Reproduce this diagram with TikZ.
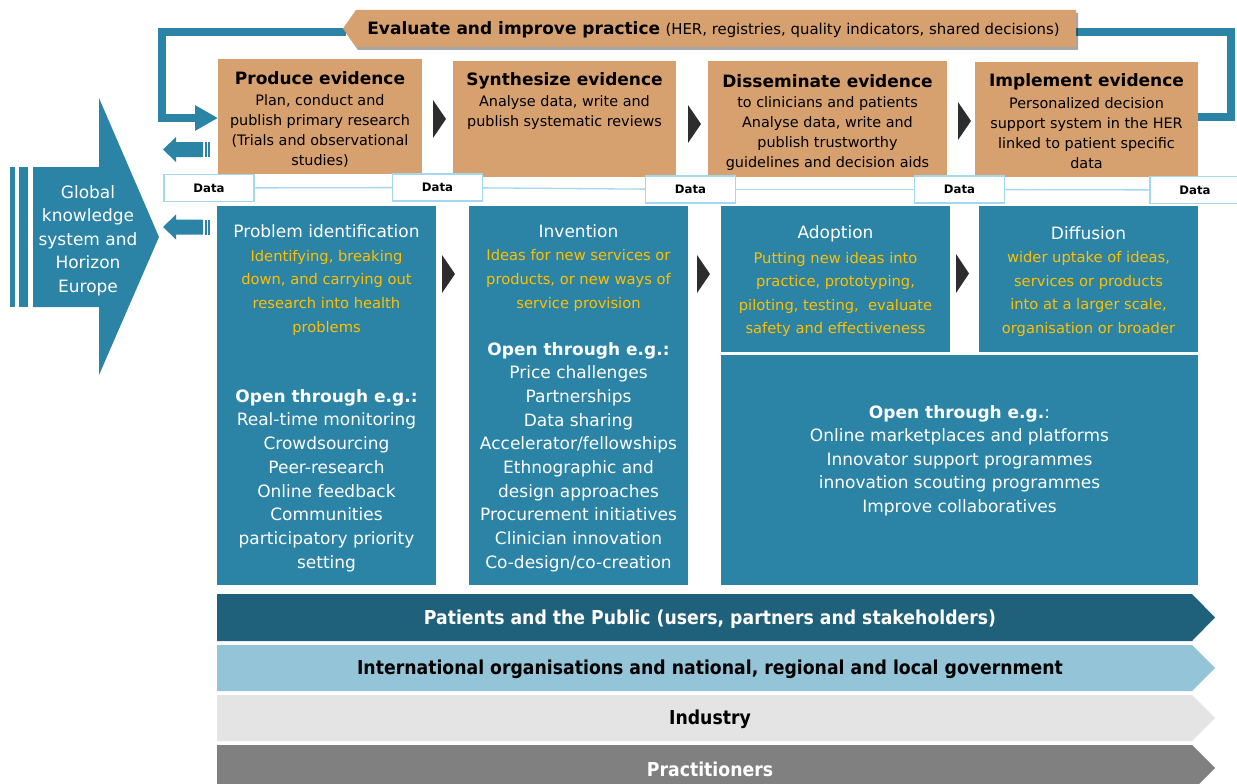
\documentclass[tikz,border=0pt]{standalone}
\usepackage{fontspec}
\setmainfont{DejaVu Sans}
\newfontfamily\bandfont[FakeStretch=0.9]{DejaVu Sans}
\usetikzlibrary{arrows.meta,shadows}
\definecolor{ctan}{RGB}{214,161,111}
\definecolor{cblue}{RGB}{43,131,166}
\definecolor{cdark}{RGB}{45,45,45}
\definecolor{cdatab}{RGB}{165,216,238}
\definecolor{cyel}{RGB}{255,192,0}
\definecolor{cpat}{RGB}{31,96,122}
\definecolor{cintl}{RGB}{147,196,216}
\definecolor{cind}{RGB}{228,228,228}
\definecolor{cprac}{RGB}{128,128,128}
\tikzset{
  boxbase/.style={draw=none, inner sep=0pt, outer sep=0pt, anchor=north west},
  bluebox/.style={boxbase, fill=cblue},
  tanbox/.style={boxbase, fill=ctan},
  databox/.style={draw=cdatab, line width=1.3pt, fill=white, minimum width=90pt, minimum height=27pt, inner sep=0pt, font=\fontsize{11.7}{14}\selectfont\bfseries},
  dataline/.style={draw=cdatab, line width=1.3pt},
  txt/.style={inner sep=0pt, align=center, yshift=-1.5pt},
  wtitle/.style={txt, text=white, font=\fontsize{17}{20}\selectfont},
  ytext/.style={txt, text=cyel, font=\fontsize{14.7}{23.7}\selectfont},
  ytextb/.style={txt, text=cyel, font=\fontsize{14.7}{23.4}\selectfont},
  wlist/.style={txt, text=white, font=\fontsize{17}{23.7}\selectfont},
  ttitle/.style={txt, font=\fontsize{17}{20}\selectfont\bfseries},
  tbody/.style={txt, font=\fontsize{14.4}{20}\selectfont},
  loopline/.style={draw=cblue, line width=8pt},
  chev/.style={fill=cdark},
  bandtext/.style={txt, font=\bandfont\fontsize{19.2}{22}\selectfont\bfseries},
}
\begin{document}
\begin{tikzpicture}[x=1pt,y=-1pt]
\useasboundingbox (0,0) rectangle (1237,784);

% top tan boxes
\node[tanbox, minimum width=204pt, minimum height=115pt] (prod) at (218,59) {};
\node[tanbox, minimum width=223pt, minimum height=116pt] (syn) at (453,61) {};
\node[tanbox, minimum width=239pt, minimum height=116pt] (diss) at (708,61) {};
\node[tanbox, minimum width=223pt, minimum height=115pt] (impl) at (975,62) {};

% loop lines
\coordinate (lc) at (161.5,118);
\coordinate (rc) at (1231,117);
\draw[loopline] (1070,32.5) -| (rc) -- (rc -| impl.east);
\draw[loopline, -{Triangle[length=23pt,width=24pt]}] (346,32.5) -| (lc) -- (lc -| prod.west);

% evaluate banner
\path[fill=ctan, drop shadow={shadow xshift=2pt, shadow yshift=-3pt, opacity=0.35, fill=black}]
  (343,28.5) -- (356,10) -- (1076,10) -- (1076,47) -- (356,47) -- cycle;
\node[txt, font=\fontsize{17}{20}\selectfont] (eval) at (713.5,28.5)
  {\textbf{Evaluate and improve practice} {\fontsize{14.9}{17}\selectfont(HER, registries, quality indicators, shared decisions)}};

% top box texts
\node[ttitle] (prodt) at (320,77) {Produce evidence};
\node[tbody] (prodb) at (320,129) {Plan, conduct and\\publish primary research\\(Trials and observational\\studies)};
\node[ttitle] (synt) at (564.5,79) {Synthesize evidence};
\node[tbody] (synb) at (564.5,111) {Analyse data, write and\\publish systematic reviews};
\node[ttitle] (disst) at (827.5,80) {Disseminate evidence};
\node[tbody] (dissb) at (827.5,132) {to clinicians and patients\\Analyse data, write and\\publish trustworthy\\guidelines and decision aids};
\node[ttitle] (implt) at (1086.5,80) {Implement evidence};
\node[tbody] (implb) at (1086.5,132) {Personalized decision\\support system in the HER\\linked to patient specific\\data};

% top chevrons
\fill[chev] (433,100) -- (446,119) -- (433,138) -- cycle;
\fill[chev] (688,105) -- (701,124) -- (688,143) -- cycle;
\fill[chev] (958,102) -- (971,121) -- (958,140) -- cycle;

% data boxes
\node[databox] (d1) at (209,188) {Data};
\node[databox] (d2) at (437.5,187.5) {Data};
\node[databox] (d3) at (690.5,189.5) {Data};
\node[databox] (d4) at (959.5,189.5) {Data};
\node[databox] (d5) at (1195,190) {Data};
\draw[dataline] (d1) -- (d2);
\draw[dataline] (d2) -- (d3);
\draw[dataline] (d3) -- (d4);
\draw[dataline] (d4) -- (d5);

% global knowledge arrow
\fill[cblue] (33,167) -- (99,167) -- (99,98) -- (159,237) -- (99,375) -- (99,307) -- (33,307) -- cycle;
\fill[cblue] (10,167) rectangle (14.7,307);
\fill[cblue] (19,167) rectangle (28,307);
\node[txt, text=white, font=\fontsize{17}{23.5}\selectfont] (glob) at (88,239) {Global\\knowledge\\system and\\Horizon\\Europe};

% small return arrows
\foreach \yc in {149.5,227} {
  \fill[cblue] (163,\yc) -- (176,\yc-12.5) -- (176,\yc-7.5) -- (203,\yc-7.5) -- (203,\yc+7.5) -- (176,\yc+7.5) -- (176,\yc+12.5) -- cycle;
  \fill[cblue] (204.6,\yc-7.5) rectangle (206.6,\yc+7.5);
  \fill[cblue] (208,\yc-7.5) rectangle (210,\yc+7.5);
}

% middle blue boxes
\node[bluebox, minimum width=219pt, minimum height=379pt] (prob) at (217,206) {};
\node[bluebox, minimum width=219pt, minimum height=379pt] (inv) at (469,206) {};
\node[bluebox, minimum width=229pt, minimum height=146pt] (adop) at (721,206) {};
\node[bluebox, minimum width=219pt, minimum height=146pt] (diff) at (979,206) {};
\node[bluebox, minimum width=477pt, minimum height=230pt] (open) at (721,355) {};

% middle chevrons
\fill[chev] (442,255) -- (455,274) -- (442,293) -- cycle;
\fill[chev] (697,255) -- (710,274) -- (697,293) -- cycle;
\fill[chev] (956,254) -- (969,273.5) -- (956,293) -- cycle;

% middle texts
\node[wtitle] (probt) at (326.5,230) {Problem identification};
\node[ytext] (proby) at (326.5,291) {Identifying, breaking\\down, and carrying out\\research into health\\problems};
\node[wlist] (probl) at (326.5,479) {\textbf{Open through e.g.:}\\Real-time monitoring\\Crowdsourcing\\Peer-research\\Online feedback\\Communities\\participatory priority\\setting};

\node[wtitle] (invt) at (578.5,230) {Invention};
\node[ytext] (invy) at (578.5,279) {Ideas for new services or\\products, or new ways of\\service provision};
\node[wlist] (invl) at (578.5,455.5) {\textbf{Open through e.g.:}\\Price challenges\\Partnerships\\Data sharing\\Accelerator/fellowships\\Ethnographic and\\design approaches\\Procurement initiatives\\Clinician innovation\\Co-design/co-creation};

\node[wtitle] (adopt) at (835.5,232) {Adoption};
\node[ytextb] (adopy) at (835.5,293) {Putting new ideas into\\practice, prototyping,\\piloting, testing,\ \ evaluate\\safety and effectiveness};

\node[wtitle] (difft) at (1088.5,232) {Diffusion};
\node[ytextb] (diffy) at (1088.5,292.5) {wider uptake of ideas,\\services or products\\into at a larger scale,\\organisation or broader};

\node[wlist, font=\fontsize{17}{23.5}\selectfont] (openl) at (959.5,459) {\textbf{Open through e.g.}:\\Online marketplaces and platforms\\Innovator support programmes\\innovation scouting programmes\\Improve collaboratives};

% bands
\fill[cpat] (217,594) -- (1192,594) -- (1215,617.5) -- (1192,641) -- (217,641) -- cycle;
\node[bandtext, text=white] (pat) at (710,618) {Patients and the Public (users, partners and stakeholders)};
\fill[cintl] (217,645) -- (1192,645) -- (1215,668) -- (1192,691) -- (217,691) -- cycle;
\node[bandtext, text=black] (intl) at (710,668) {International organisations and national, regional and local government};
\fill[cind] (217,695) -- (1192,695) -- (1215,718) -- (1192,741) -- (217,741) -- cycle;
\node[bandtext, text=black] (ind) at (710,718) {Industry};
\fill[cprac] (217,745) -- (1192,745) -- (1215,768) -- (1192,791) -- (217,791) -- cycle;
\node[bandtext, text=white] (prac) at (710,768) {Practitioners};
\end{tikzpicture}
\end{document}
